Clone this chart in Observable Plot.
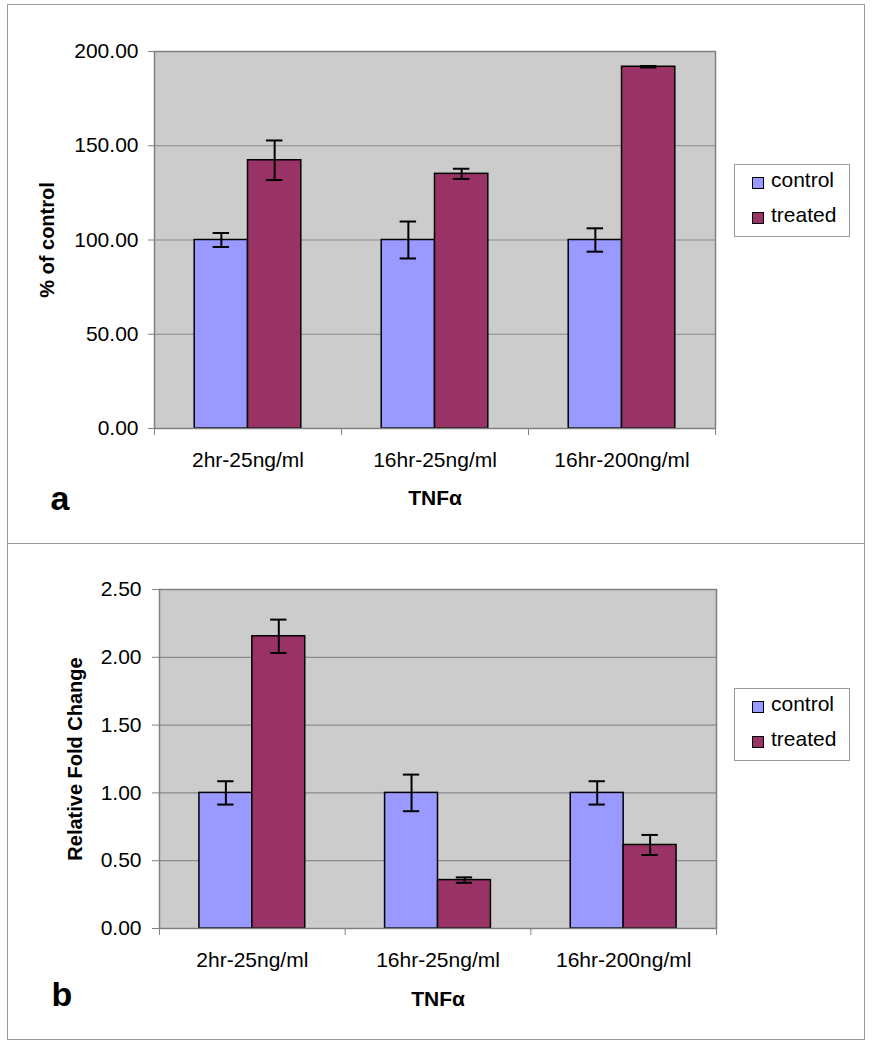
<!DOCTYPE html>
<html><head><meta charset="utf-8">
<script src="https://cdn.jsdelivr.net/npm/d3@7"></script>
<script src="https://cdn.jsdelivr.net/npm/@observablehq/plot@0.6"></script>
<style>
body{margin:0;background:#fff;font-family:'Liberation Sans',Arial,sans-serif;}
#root{position:relative;width:872px;height:1050px;overflow:hidden;background:#fff;}
.box{position:absolute;border:1px solid #9a9a9a;box-sizing:border-box;pointer-events:none;}
.panel{position:absolute;left:0;}
.legend{position:absolute;width:116px;height:73px;border:1px solid #9a9a9a;box-sizing:border-box;background:#fff;}
.sw{position:absolute;width:12px;height:12px;border:1.5px solid #000;box-sizing:border-box;}
.lt{position:absolute;font-size:21px;line-height:24px;color:#000;white-space:nowrap;}
</style></head><body><div id="root"></div>
<script>
// ---- data ----
const categories = ["2hr-25ng/ml", "16hr-25ng/ml", "16hr-200ng/ml"];
const series = ["control", "treated"];
const seriesColors = ["#9999ff", "#993366"];

// panel a: % of control
const controlA = [100, 100, 100];
const controlAErr = [3.7, 9.8, 6.2];
const treatedA = [142.3, 135.1, 191.9];
const treatedAErr = [10.5, 2.7, 0.4];
const yTicksA = [0, 50, 100, 150, 200];

// panel b: relative fold change
const controlB = [1.0, 1.0, 1.0];
const controlBErr = [0.086, 0.135, 0.086];
const treatedB = [2.155, 0.357, 0.616];
const treatedBErr = [0.123, 0.02, 0.074];
const yTicksB = [0, 0.5, 1.0, 1.5, 2.0, 2.5];

const xTitle = "TNFα";

// ---- layout ----
const groupStart = 0.215, barW = 0.285, capHalf = 0.044;
const root = document.getElementById("root");

function panel(opts) {
  const vals = [opts.control, opts.treated];
  const errs = [opts.controlErr, opts.treatedErr];
  const rows = categories.flatMap((c, i) => series.map((s, j) => ({
    i, cat: c, series: s, value: vals[j][i], err: errs[j][i],
    x1: i + groupStart + j * barW, x2: i + groupStart + (j + 1) * barW
  })));
  const mid = d => (d.x1 + d.x2) / 2;
  const ticks = opts.ticks;
  const chart = Plot.plot({
    width: 872, height: opts.height,
    marginLeft: opts.ml, marginRight: opts.mr, marginTop: opts.mt, marginBottom: opts.mb,
    style: {fontFamily: "'Liberation Sans', Arial, sans-serif", background: "transparent", color: "#000", overflow: "visible"},
    x: {type: "linear", domain: [0, categories.length]},
    y: {domain: [ticks[0], ticks[ticks.length - 1]]},
    color: {domain: series, range: seriesColors},
    marks: [
      Plot.frame({fill: "#cccccc", stroke: null}),
      Plot.ruleY(ticks.slice(1, -1), {stroke: "#8a8a8a", strokeWidth: 1.2}),
      Plot.rectY(rows, {x1: "x1", x2: "x2", y1: 0, y2: "value", fill: "series", stroke: "#000", strokeWidth: 1.5}),
      Plot.ruleX(rows, {x: mid, y1: d => d.value - d.err, y2: d => d.value + d.err, stroke: "#000", strokeWidth: 2}),
      Plot.ruleY(rows, {y: d => d.value + d.err, x1: d => mid(d) - capHalf, x2: d => mid(d) + capHalf, stroke: "#000", strokeWidth: 2}),
      Plot.ruleY(rows, {y: d => d.value - d.err, x1: d => mid(d) - capHalf, x2: d => mid(d) + capHalf, stroke: "#000", strokeWidth: 2}),
      Plot.frame({stroke: "#808080", strokeWidth: 1.5, fill: null}),
      Plot.axisY({ticks, tickFormat: d => d.toFixed(2), tickSize: opts.tickSize, tickPadding: opts.tickPad, fontSize: 21, stroke: "#808080", fill: "#000", label: null}),
      Plot.axisX({ticks: d3.range(categories.length + 1), tickSize: 7, tickFormat: () => "", stroke: "#808080", label: null}),
      Plot.axisX({ticks: categories.map((c, i) => i + 0.5), tickSize: 0, tickPadding: 24, tickFormat: t => categories[Math.floor(t)], fontSize: 21, fill: "#000", label: null}),
      Plot.text([opts.yLabel], {text: d => d, frameAnchor: "left", dx: opts.yLabelDx, rotate: -90, textAnchor: "middle", lineAnchor: "middle", fontWeight: "bold", fontSize: 20, fill: "#000"}),
      Plot.text([xTitle], {text: d => d, frameAnchor: "bottom", dy: opts.titleDy, textAnchor: "middle", fontWeight: "bold", fontSize: 21, fill: "#000"}),
      Plot.text([opts.letter], {text: d => d, frameAnchor: "bottom-left", dx: opts.letterDx, dy: opts.letterDy, textAnchor: "start", lineAnchor: "bottom", fontWeight: "bold", fontSize: 34, fill: "#000"})
    ]
  });
  chart.classList.add("panel");
  chart.style.top = opts.top + "px";
  root.appendChild(chart);

  // legend
  const lg = document.createElement("div");
  lg.className = "legend";
  lg.style.left = "734px";
  lg.style.top = opts.legendTop + "px";
  series.forEach((s, j) => {
    const sw = document.createElement("div");
    sw.className = "sw";
    sw.style.left = "17px";
    sw.style.top = (12 + j * 35) + "px";
    sw.style.background = seriesColors[j];
    const t = document.createElement("div");
    t.className = "lt";
    t.style.left = "36px";
    t.style.top = (3 + j * 35) + "px";
    t.textContent = s;
    lg.appendChild(sw);
    lg.appendChild(t);
  });
  root.appendChild(lg);
}

panel({top: 0, height: 543, ml: 154, mr: 157, mt: 51, mb: 115,
  control: controlA, controlErr: controlAErr, treated: treatedA, treatedErr: treatedAErr,
  ticks: yTicksA, tickSize: 6, tickPad: 10, yLabel: "% of control", yLabelDx: -107,
  titleDy: 76, letter: "a", letterDx: -104, letterDy: 81, legendTop: 164});

panel({top: 543, height: 507, ml: 159, mr: 156, mt: 46, mb: 122,
  control: controlB, controlErr: controlBErr, treated: treatedB, treatedErr: treatedBErr,
  ticks: yTicksB, tickSize: 7, tickPad: 11, yLabel: "Relative Fold Change", yLabelDx: -84,
  titleDy: 77, letter: "b", letterDx: -108, letterDy: 77, legendTop: 688});

// outer panel boxes
[[4, 543], [543, 1039]].forEach(([t, b]) => {
  const d = document.createElement("div");
  d.className = "box";
  d.style.left = "7px";
  d.style.top = t + "px";
  d.style.width = (865 - 7) + "px";
  d.style.height = (b - t + 1) + "px";
  root.appendChild(d);
});
</script>
</body></html>
